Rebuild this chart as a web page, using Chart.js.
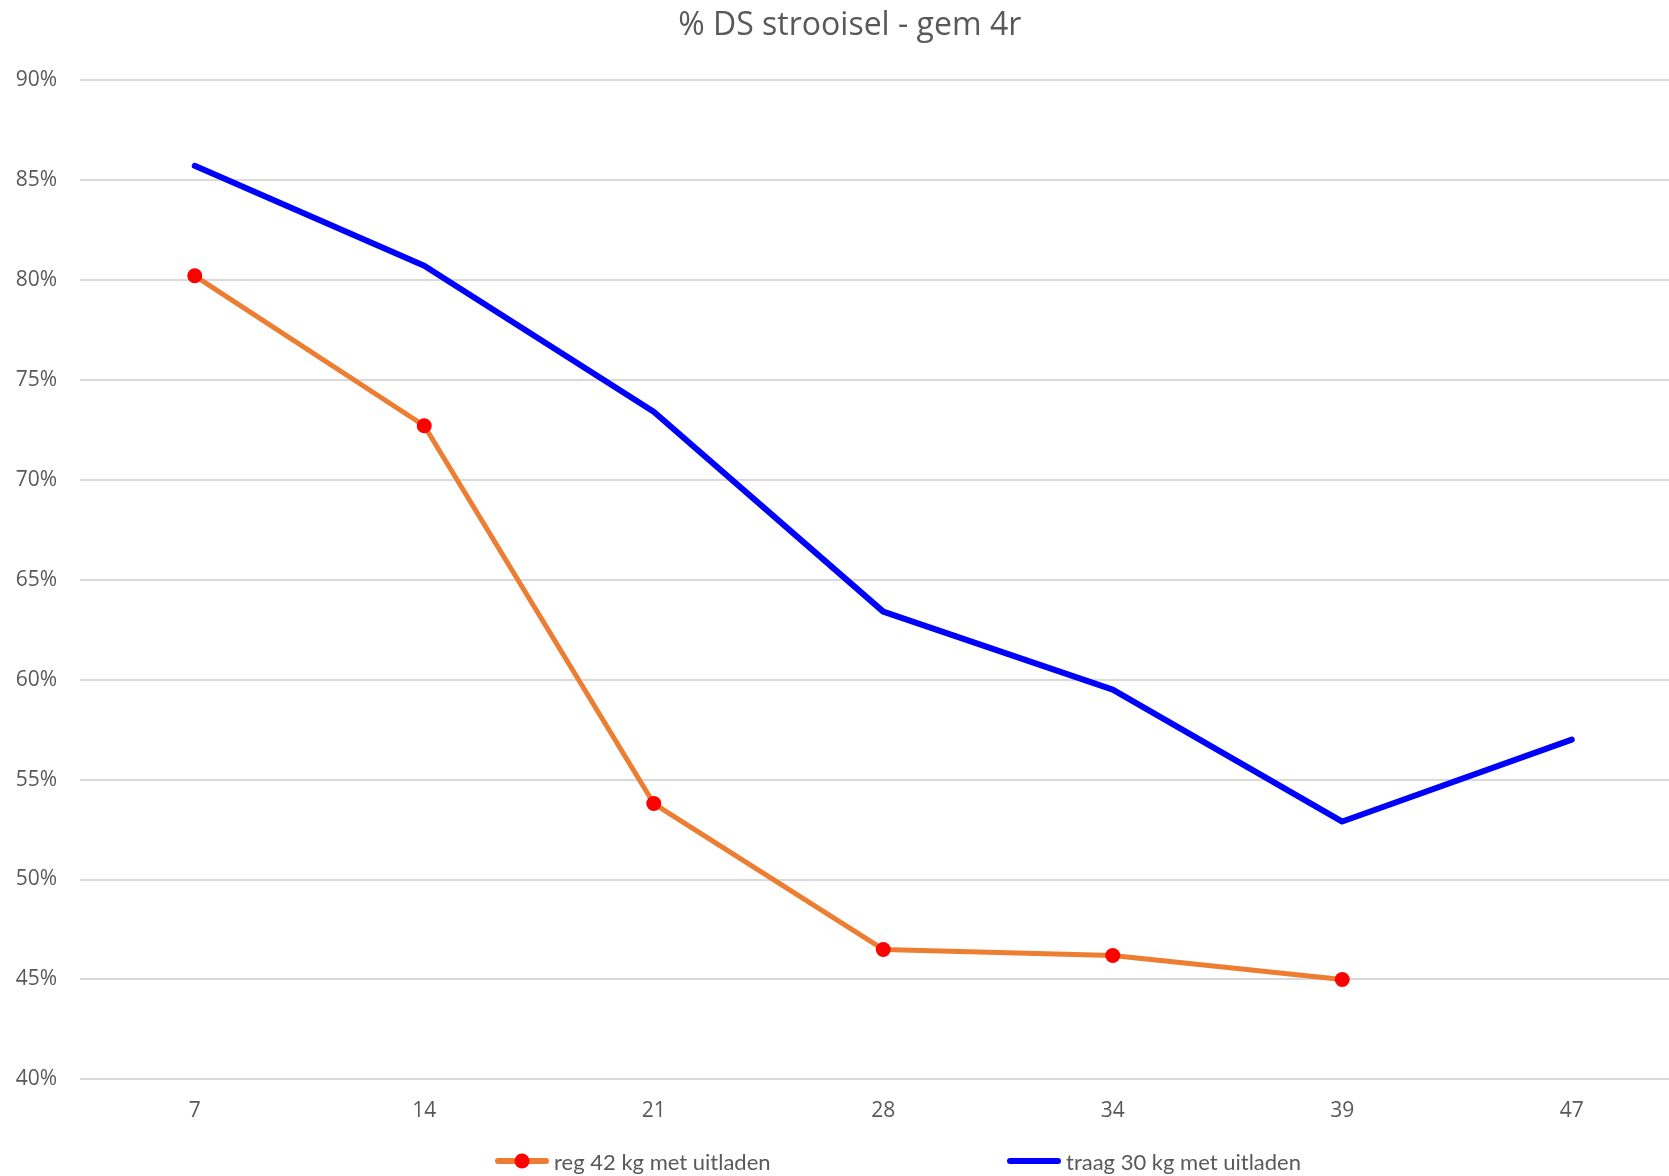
<!DOCTYPE html>
<html>
<head>
<meta charset="utf-8">
<title>% DS strooisel - gem 4r</title>
<script src="https://cdn.jsdelivr.net/npm/chart.js@4.4.1/dist/chart.umd.min.js"></script>
<style>
  html, body { margin: 0; padding: 0; background: #fff; overflow: hidden; }
  #wrap { position: relative; width: 1669px; height: 1176px; overflow: hidden; }
  #legend {
    position: absolute; left: 495px; top: 1148px;
    display: flex; font-family: Lato, sans-serif; font-size: 22px; color: #595959;
  }
  .item { display: flex; align-items: center; width: 512px; height: 26px; }
  .sym { position: relative; width: 54px; height: 6px; border-radius: 3px; margin-right: 5px; }
  .dot { position: absolute; left: 50%; top: 50%; width: 15px; height: 15px;
         border-radius: 50%; transform: translate(-50%, -50%); }
</style>
</head>
<body>
<div id="wrap">
  <canvas id="chart" width="1714" height="1176"></canvas>
  <div id="legend"></div>
</div>
<script>
// data (in %)
const days = ['7', '14', '21', '28', '34', '39', '47'];
const regValues = [80.2, 72.7, 53.8, 46.5, 46.2, 45.0, null];
const traagValues = [85.7, 80.7, 73.4, 63.4, 59.5, 52.9, 57.0];
const seriesNames = ['reg 42 kg met uitladen', 'traag 30 kg met uitladen'];
const yMin = 40, yMax = 90, yStep = 5;

const textColor = '#595959';
const orange = '#ED7D31';
const red = '#FF0000';
const blue = '#0000FF';

const ctx = document.getElementById('chart').getContext('2d');

new Chart(ctx, {
    type: 'line',
    data: {
        labels: days,
        datasets: [{
            label: seriesNames[0],
            data: regValues,
            borderColor: orange,
            borderWidth: 5,
            borderJoinStyle: 'round',
            pointRadius: 7.5,
            pointBackgroundColor: red,
            pointBorderWidth: 0,
            pointHoverRadius: 7.5,
            tension: 0
        }, {
            label: seriesNames[1],
            data: traagValues,
            borderColor: blue,
            borderWidth: 6,
            borderCapStyle: 'round',
            borderJoinStyle: 'round',
            pointRadius: 0,
            pointHoverRadius: 0,
            tension: 0
        }]
    },
    options: {
        responsive: false,
        animation: false,
        layout: {
            // plot runs a bit past the right edge of the window, like the original
            padding: { left: 13, right: 27.5, top: 0, bottom: 53.6 }
        },
        plugins: {
            legend: { display: false },
            tooltip: { enabled: false },
            title: {
                display: true,
                text: '% DS strooisel - gem 4r',
                color: textColor,
                font: { family: 'Open Sans', size: 32, weight: 'normal' },
                padding: { top: 7, bottom: 34.5 }
            }
        },
        scales: {
            x: {
                offset: true,
                grid: { display: false },
                border: { display: false },
                ticks: {
                    color: textColor,
                    font: { family: 'Open Sans', size: 21 },
                    padding: 11
                },
                afterFit: (scale) => { scale.height = 43; }
            },
            y: {
                min: yMin,
                max: yMax,
                grid: { color: '#D9D9D9', lineWidth: 2, drawTicks: false },
                border: { display: false },
                ticks: {
                    stepSize: yStep,
                    color: textColor,
                    font: { family: 'Open Sans', size: 21 },
                    padding: 23,
                    callback: (v) => v + '%'
                },
                afterFit: (scale) => { scale.width = 67; }
            }
        }
    }
});

// legend below the chart, Excel style (line + marker)
const legend = document.getElementById('legend');
const symbols = [
    { line: orange, dot: red },
    { line: blue, dot: null }
];
seriesNames.forEach((name, i) => {
    const s = symbols[i];
    const dot = s.dot ? `<span class="dot" style="background:${s.dot}"></span>` : '';
    legend.innerHTML += `
        <div class="item">
            <span class="sym" style="background:${s.line}">${dot}</span>
            <span>${name}</span>
        </div>`;
});
</script>
</body>
</html>
